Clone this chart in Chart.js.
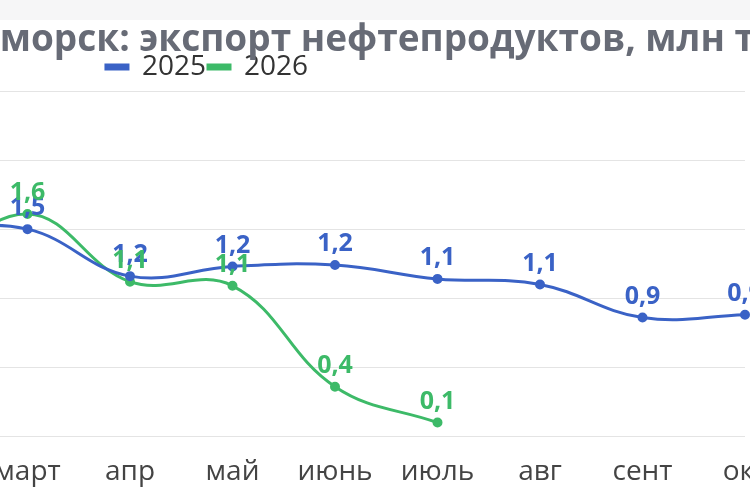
<!DOCTYPE html>
<html>
<head>
<meta charset="utf-8">
<script src="https://cdn.jsdelivr.net/npm/chart.js@4"></script>
<style>
  html, body { margin: 0; padding: 0; background: #f6f6f7; overflow: hidden; }
  #wrap { position: absolute; left: -341px; top: 20px; width: 1096px; height: 500px; background: #fff; }
</style>
</head>
<body>
<div id="wrap"><canvas id="exportChart"></canvas></div>
<script>
// months (february and the edges fall outside the visible frame)
const months = ['фев', 'март', 'апр', 'май', 'июнь', 'июль', 'авг', 'сент', 'окт'];
const exp2025 = [1.5, 1.5, 1.16, 1.23, 1.24, 1.14, 1.1, 0.86, 0.88];
const exp2026 = [1.15, 1.61, 1.12, 1.09, 0.36, 0.1, null, null, null];
const yTicks = [0, 0.5, 1, 1.5, 2, 2.5];

const blue = '#3a62c6';
const green = '#3dba68';
const font = "'Open Sans', 'Noto Sans', sans-serif";

// draws the value above each point, like datalabels
const valueLabels = {
  id: 'valueLabels',
  afterDatasetsDraw(chart) {
    const ctx = chart.ctx;
    ctx.save();
    ctx.font = 'bold 25px ' + font;
    ctx.textAlign = 'center';
    ctx.textBaseline = 'middle';
    chart.data.datasets.forEach((ds, i) => {
      const meta = chart.getDatasetMeta(i);
      if (meta.hidden) return;
      ctx.fillStyle = ds.borderColor;
      meta.data.forEach((pt, j) => {
        const v = ds.data[j];
        if (v == null) return;
        ctx.fillText(v.toFixed(1).replace('.', ','), pt.x, pt.y - 21);
      });
    });
    ctx.restore();
  }
};

const ctx = document.getElementById('exportChart').getContext('2d');
const chart = new Chart(ctx, {
  type: 'line',
  data: {
    labels: months,
    datasets: [
      {
        label: '2025',
        data: exp2025,
        borderColor: blue,
        backgroundColor: blue,
        borderWidth: 3,
        pointRadius: 3.5,
        tension: 0.4,
        clip: false
      },
      {
        label: '2026',
        data: exp2026,
        borderColor: green,
        backgroundColor: green,
        borderWidth: 3,
        pointRadius: 3.5,
        tension: 0.4,
        clip: false
      }
    ]
  },
  options: {
    responsive: true,
    maintainAspectRatio: false,
    animation: false,
    layout: { padding: { top: -2, bottom: 20, left: 0, right: 0 } },
    plugins: {
      title: {
        display: true,
        text: 'Приморск: экспорт нефтепродуктов, млн т',
        align: 'end',
        color: '#676b76',
        font: { family: font, size: 37, weight: 'bold', lineHeight: 1 },
        padding: { top: 4, bottom: -8 }
      },
      legend: {
        labels: {
          color: '#333',
          font: { family: font, size: 28 },
          boxWidth: 22,
          boxHeight: 4,
          padding: 2
        }
      },
      tooltip: { enabled: false }
    },
    scales: {
      x: {
        grid: { display: false },
        border: { display: false },
        ticks: { color: '#444', font: { family: font, size: 28 }, padding: 11 },
        afterFit: axis => { axis.paddingLeft = 0; axis.paddingRight = 0; }
      },
      y: {
        min: 0,
        max: 2.5,
        afterBuildTicks: axis => { axis.ticks = yTicks.map(v => ({ value: v })); },
        grid: { color: '#e4e4e4', drawTicks: false },
        border: { display: false },
        ticks: { display: false },
        afterFit: axis => { axis.width = 266; }
      },
      yR: {
        position: 'right',
        grid: { display: false },
        border: { display: false },
        ticks: { display: false },
        afterFit: axis => { axis.width = 10; }
      }
    }
  },
  plugins: [valueLabels]
});
</script>
</body>
</html>
